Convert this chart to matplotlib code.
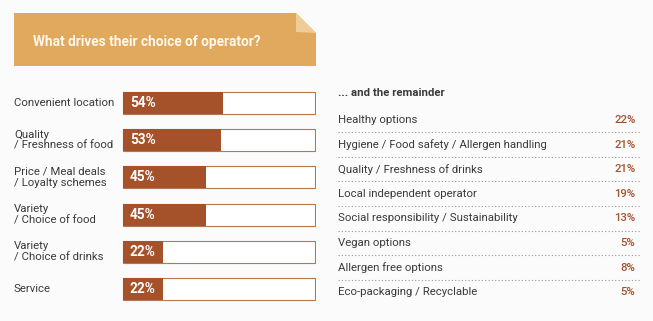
import matplotlib.pyplot as plt
from matplotlib.patches import Polygon
from matplotlib.transforms import blended_transform_factory

# main drivers (bars)
drivers = ["Convenient location", "Quality\n/ Freshness of food", "Price / Meal deals\n/ Loyalty schemes",
           "Variety\n/ Choice of food", "Variety\n/ Choice of drinks", "Service"]
driver_pct = [54, 53, 45, 45, 22, 22]

# the remainder (list)
others = ["Healthy options", "Hygiene / Food safety / Allergen handling", "Quality / Freshness of drinks",
          "Local independent operator", "Social responsibility / Sustainability", "Vegan options",
          "Allergen free options", "Eco-packaging / Recyclable"]
other_pct = [22, 21, 21, 19, 13, 5, 8, 5]

title = "What drives their choice of operator?"
subtitle = "... and the remainder"

W, H = 653, 321
BROWN = "#a5522b"
TXT = "#3a3a3a"
plt.rcParams["font.family"] = ["Roboto", "DejaVu Sans"]

fig = plt.figure(figsize=(W / 100, H / 100), dpi=100, facecolor="#fbfbfb")


def px(x, y):
    return (x / W, 1 - y / H)


# title banner with folded corner
banner = Polygon([px(14, 13), px(296, 13), px(316, 33), px(316, 66), px(14, 66)],
                 closed=True, transform=fig.transFigure, facecolor="#e0a95e", edgecolor="none")
fold = Polygon([px(296, 13), px(296, 32), px(316, 33)], closed=True,
               transform=fig.transFigure, facecolor="#efcd98", edgecolor="none")
fig.patches.extend([banner, fold])
fig.text(33 / W, 1 - 42 / H, title, color="#fff8ee", fontsize=9.8, fontweight="bold",
         va="center", ha="left")

# left: bars
ax = fig.add_axes([122 / W, 1 - 307.6 / H, 194 / W, 223.2 / H])
ax.set_facecolor("none")
ypos = list(range(len(drivers)))
full = 104
ax.barh(ypos, [full] * len(ypos), height=0.59, color="white", edgecolor="#b5774f", linewidth=0.8)
ax.barh(ypos, driver_pct, height=0.59, color=BROWN, edgecolor="none")
ax.set_xlim(-0.3, full + 0.3)
ax.set_ylim(5.5, -0.5)
ax.axis("off")
tr = blended_transform_factory(fig.transFigure, ax.transData)
for y, lab, v in zip(ypos, drivers, driver_pct):
    ax.text(14 / W, y, lab, transform=tr, ha="left", va="center", fontsize=8.2,
            color=TXT, linespacing=1.1)
    ax.text(4, y, f"{v}%", ha="left", va="center", fontsize=9.8, fontweight="bold", color="white")

# right: list
ax2 = fig.add_axes([338 / W, 1 - 307 / H, 302 / W, 226.4 / H])
ax2.set_facecolor("none")
ax2.set_xlim(0, 1)
ax2.set_ylim(7.6, -1.6)
ax2.axis("off")
ax2.text(0, -1.1, subtitle, ha="left", va="center", fontsize=8.2, fontweight="bold", color=TXT)
for i, (lab, v) in enumerate(zip(others, other_pct)):
    ax2.text(0, i, lab, ha="left", va="center", fontsize=8.2, color=TXT)
    ax2.text(0.985, i, f"{v}%", ha="right", va="center", fontsize=8.2, fontweight="medium",
             color=BROWN)
    if i < len(others) - 1:
        ax2.plot([0, 1], [i + 0.5, i + 0.5], color="#9a9a9a", linewidth=0.8, linestyle=(0, (1, 2)))

fig.savefig("out.png", dpi=100, facecolor=fig.get_facecolor())
